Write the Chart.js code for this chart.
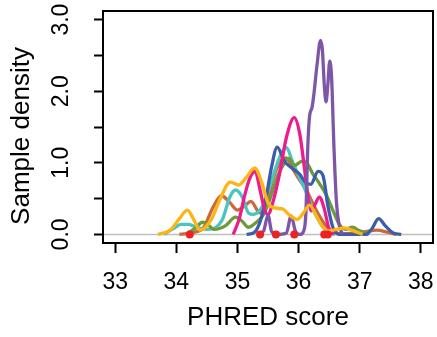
<!DOCTYPE html>
<html>
<head>
<meta charset="utf-8">
<script src="https://cdn.jsdelivr.net/npm/chart.js@4"></script>
<style>
  html, body { margin: 0; padding: 0; background: #fff; }
  canvas { display: block; }
</style>
</head>
<body>
<canvas id="densityChart" width="437" height="337"></canvas>
<script>
// ===== axis ticks =====
const xTicks = [33, 34, 35, 36, 37, 38];
const yTicks = [0, 0.5, 1, 1.5, 2, 2.5, 3];
const yTitle = "Sample density";

// ===== density curves (knots) =====
const brownX = [34.05, 34.30, 34.45, 34.60, 34.74, 34.88, 35.00, 35.12, 35.22, 35.37, 35.47, 35.58, 35.69, 35.80, 35.91, 36.01, 36.12, 36.23, 36.34, 36.45, 36.58, 36.75, 36.95, 37.10, 37.28, 37.45, 37.60];
const brownY = [0.00, 0.03, 0.10, 0.38, 0.54, 0.44, 0.34, 0.40, 0.46, 0.30, 0.42, 0.77, 1.00, 1.07, 0.91, 0.77, 0.63, 0.44, 0.26, 0.12, 0.03, 0.01, 0.02, 0.04, 0.06, 0.03, 0.00];

const cyanX = [33.80, 33.95, 34.08, 34.20, 34.35, 34.50, 34.65, 34.75, 34.88, 34.97, 35.08, 35.18, 35.26, 35.40, 35.50, 35.60, 35.70, 35.80, 35.90, 36.00, 36.10, 36.23, 36.34, 36.45, 36.60];
const cyanY = [0.00, 0.08, 0.14, 0.14, 0.09, 0.07, 0.10, 0.20, 0.53, 0.62, 0.52, 0.30, 0.28, 0.38, 0.60, 0.86, 1.10, 1.21, 1.02, 0.82, 0.64, 0.37, 0.18, 0.05, 0.00];

const greenX = [34.15, 34.30, 34.43, 34.50, 34.62, 34.80, 34.97, 35.07, 35.18, 35.28, 35.42, 35.53, 35.65, 35.77, 35.84, 35.93, 36.05, 36.12, 36.23, 36.35, 36.46, 36.56, 36.66, 36.77, 36.88, 37.00, 37.15];
const greenY = [0.00, 0.08, 0.17, 0.15, 0.07, 0.12, 0.24, 0.19, 0.10, 0.15, 0.27, 0.49, 0.80, 1.00, 1.06, 0.96, 1.02, 1.01, 0.85, 0.70, 0.54, 0.34, 0.15, 0.07, 0.10, 0.05, 0.00];

const blueX = [35.15, 35.28, 35.38, 35.47, 35.56, 35.65, 35.77, 35.90, 36.02, 36.12, 36.20, 36.32, 36.40, 36.48, 36.57, 36.70, 37.10, 37.20, 37.31, 37.42, 37.55, 37.68];
const blueY = [0.00, 0.03, 0.20, 0.52, 0.95, 1.22, 1.02, 0.92, 0.84, 0.72, 0.70, 0.88, 0.82, 0.40, 0.08, 0.00, 0.00, 0.08, 0.22, 0.12, 0.02, 0.00];

const pinkX = [34.93, 35.03, 35.12, 35.20, 35.29, 35.37, 35.45, 35.50, 35.58, 35.69, 35.80, 35.93, 36.02, 36.10, 36.16, 36.21, 36.27, 36.34, 36.42, 36.50, 36.58];
const pinkY = [0.00, 0.22, 0.55, 0.78, 0.88, 0.62, 0.33, 0.28, 0.45, 0.85, 1.35, 1.63, 1.40, 0.90, 0.50, 0.33, 0.42, 0.52, 0.36, 0.07, 0.00];

const purpleX = [35.35, 35.43, 35.50, 35.56, 35.65, 35.80, 35.88, 35.95, 36.02, 36.08, 36.12, 36.15, 36.18, 36.22, 36.25, 36.30, 36.36, 36.39, 36.42, 36.45, 36.48, 36.51, 36.54, 36.58, 36.62, 36.66, 36.72];
const purpleY = [0.00, 0.05, 0.27, 0.04, 0.00, 0.02, 0.26, 0.04, 0.00, 0.04, 0.30, 1.20, 1.65, 1.77, 1.95, 2.35, 2.71, 2.58, 2.10, 1.85, 2.10, 2.42, 2.20, 1.20, 0.45, 0.15, 0.00];

const yellowX = [33.70, 33.90, 34.05, 34.18, 34.30, 34.38, 34.45, 34.58, 34.72, 34.88, 35.02, 35.15, 35.28, 35.40, 35.50, 35.62, 35.75, 35.85, 35.98, 36.08, 36.18, 36.30, 36.40, 36.50, 36.62, 36.75, 36.90, 37.05];
const yellowY = [0.00, 0.06, 0.22, 0.34, 0.18, 0.06, 0.08, 0.22, 0.50, 0.73, 0.69, 0.80, 0.93, 0.72, 0.44, 0.37, 0.35, 0.27, 0.21, 0.30, 0.41, 0.24, 0.10, 0.05, 0.07, 0.09, 0.05, 0.00];

// rug points at the bottom
const rugX = [34.22, 35.37, 35.63, 35.93, 36.42, 36.48];

const FONT = "'Liberation Sans', Arial, Helvetica, sans-serif";
Chart.defaults.color = "#000";
Chart.defaults.font.family = FONT;

const zip = (xs, ys) => xs.map((x, i) => ({ x, y: ys[i] }));

function curve(xs, ys, color, order) {
  return {
    data: zip(xs, ys),
    borderColor: color,
    borderWidth: 3.3,
    pointRadius: 0,
    fill: false,
    cubicInterpolationMode: "monotone",
    order
  };
}

// grey zero line, box round the plot, y title (R puts it a bit lower than centre)
const frame = {
  id: "frame",
  beforeDatasetsDraw(chart) {
    const { ctx, chartArea, scales } = chart;
    const y0 = scales.y.getPixelForValue(0);
    ctx.save();
    ctx.strokeStyle = "#BEBEBE";
    ctx.lineWidth = 1.5;
    ctx.beginPath();
    ctx.moveTo(chartArea.left, y0);
    ctx.lineTo(chartArea.right, y0);
    ctx.stroke();
    ctx.restore();
  },
  afterDraw(chart) {
    const { ctx, chartArea: a } = chart;
    ctx.save();
    ctx.strokeStyle = "#000";
    ctx.lineWidth = 2;
    ctx.strokeRect(a.left, a.top, a.right - a.left, a.bottom - a.top);

    ctx.translate(29, 136);
    ctx.rotate(-Math.PI / 2);
    ctx.font = "26px " + FONT;
    ctx.fillStyle = "#000";
    ctx.textAlign = "center";
    ctx.textBaseline = "alphabetic";
    ctx.fillText(yTitle, 0, 0);
    ctx.restore();
  }
};

new Chart(document.getElementById("densityChart"), {
  type: "line",
  data: {
    datasets: [
      {
        type: "scatter",
        data: rugX.map(x => ({ x, y: 0 })),
        backgroundColor: "#EE2222",
        borderWidth: 0,
        pointRadius: 4,
        order: 0
      },
      curve(yellowX, yellowY, "#FDB515", 1),
      curve(purpleX, purpleY, "#7E56A8", 2),
      curve(pinkX, pinkY, "#EC1C8C", 3),
      curve(blueX, blueY, "#3C5DAA", 4),
      curve(greenX, greenY, "#6E9A3C", 5),
      curve(cyanX, cyanY, "#4CC4C0", 6),
      curve(brownX, brownY, "#CB6A38", 7)
    ]
  },
  options: {
    responsive: false,
    animation: false,
    layout: { padding: { top: 11, right: 1, left: 0, bottom: 0 } },
    plugins: { legend: { display: false }, tooltip: { enabled: false } },
    scales: {
      x: {
        type: "linear",
        min: 32.8,
        max: 38.2,
        afterBuildTicks: s => { s.ticks = xTicks.map(v => ({ value: v })); },
        afterFit: s => { s.height = 94; s.paddingLeft = 0; s.paddingRight = 0; },
        border: { display: false },
        grid: { drawOnChartArea: false, drawTicks: true, tickLength: 10, tickColor: "#000", tickWidth: 2 },
        ticks: { font: { size: 23 }, padding: 16, maxRotation: 0, callback: v => String(v) },
        title: { display: true, text: "PHRED score", font: { size: 26 }, padding: { top: 0, bottom: 4 } }
      },
      y: {
        min: -0.12,
        max: 3.12,
        afterBuildTicks: s => { s.ticks = yTicks.map(v => ({ value: v })); },
        afterFit: s => { s.width = 103; s.paddingTop = 0; s.paddingBottom = 0; },
        border: { display: false },
        grid: { drawOnChartArea: false, drawTicks: true, tickLength: 9, tickColor: "#000", tickWidth: 2 },
        ticks: {
          font: { size: 23 },
          padding: 16,
          minRotation: 90,
          maxRotation: 90,
          crossAlign: "center",
          callback: v => (Number.isInteger(v) ? v.toFixed(1) : "")
        }
      }
    }
  },
  plugins: [frame]
});
</script>
</body>
</html>
